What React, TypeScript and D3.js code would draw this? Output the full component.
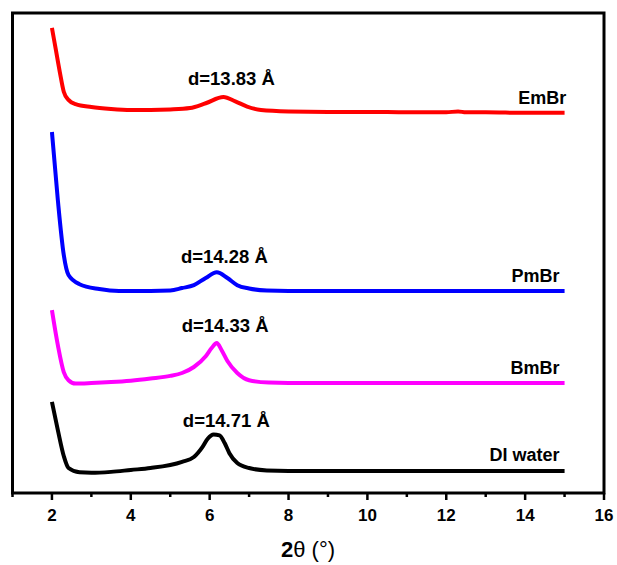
import { useEffect, useRef } from 'react';
import * as d3 from 'd3';

// 2θ (deg) vs intensity (a.u., stacked offsets included)
const emBr: [number, number][] = [
  [2.0, 96.9], [2.1, 92.3], [2.2, 87.7], [2.3, 83.6], [2.42, 81.9], [2.6, 81.0],
  [3.0, 80.4], [3.5, 80.0], [4.0, 79.8], [4.5, 79.8], [5.0, 79.9], [5.5, 80.2],
  [5.9, 81.2], [6.35, 82.5], [6.65, 81.6], [6.95, 80.5], [7.3, 79.8], [8.0, 79.5],
  [9.0, 79.4], [10.0, 79.4], [11.0, 79.3], [12.0, 79.3], [12.3, 79.5], [12.5, 79.3],
  [13.0, 79.3], [14.0, 79.2], [15.0, 79.2],
];

const pmBr: [number, number][] = [
  [2.0, 75.2], [2.15, 61.0], [2.3, 49.6], [2.42, 45.4], [2.7, 43.5], [3.2, 42.5],
  [3.7, 42.1], [4.5, 42.1], [5.0, 42.2], [5.3, 42.7], [5.6, 43.3], [5.9, 44.8],
  [6.18, 46.0], [6.45, 44.8], [6.7, 43.3], [7.0, 42.6], [7.45, 42.2], [8.0, 42.1],
  [10.0, 42.1], [12.0, 42.1], [14.0, 42.1], [15.0, 42.1],
];

const bmBr: [number, number][] = [
  [2.0, 38.1], [2.15, 30.8], [2.3, 25.2], [2.42, 23.5], [2.6, 22.8], [3.0, 22.9],
  [3.5, 23.1], [4.0, 23.4], [4.5, 23.85], [5.0, 24.4], [5.3, 25.0], [5.6, 26.25],
  [5.9, 28.5], [6.05, 30.2], [6.18, 31.25], [6.3, 29.8], [6.45, 27.5], [6.7, 25.0],
  [7.0, 23.5], [7.5, 23.0], [8.0, 22.9], [10.0, 22.9], [12.0, 22.9], [14.0, 22.9], [15.0, 22.9],
];

const diWater: [number, number][] = [
  [2.0, 19.0], [2.15, 13.1], [2.3, 7.7], [2.42, 5.2], [2.7, 4.3], [3.0, 4.2],
  [3.5, 4.4], [4.0, 4.8], [4.5, 5.2], [5.3, 6.5], [5.6, 7.5], [5.82, 9.6],
  [5.95, 11.3], [6.1, 12.2], [6.25, 12.0], [6.38, 10.4], [6.5, 8.3], [6.7, 6.25],
  [7.0, 5.2], [7.45, 4.7], [8.0, 4.6], [10.0, 4.6], [12.0, 4.6], [14.0, 4.6], [15.0, 4.6],
];

const seriesNames = ['EmBr', 'PmBr', 'BmBr', 'DI water'];
const seriesColors = ['#ff0000', '#0000ff', '#ff00ff', '#000000'];
const seriesData = [emBr, pmBr, bmBr, diWater];
// label position in data units: [x end, y baseline]
const nameAnchors: [number, number][] = [[15.04, 81.0], [14.87, 43.9], [14.87, 24.8], [14.87, 6.7]];

const dLabels = ['d=13.83 Å', 'd=14.28 Å', 'd=14.33 Å', 'd=14.71 Å'];
const dAnchors: [number, number][] = [[5.45, 85.0], [5.27, 47.9], [5.29, 33.5], [5.32, 13.8]];

const majorTicks = [2, 4, 6, 8, 10, 12, 14, 16];
const minorTicks = [1, 3, 5, 7, 9, 11, 13, 15];

export default function App() {
  const svgRef = useRef<SVGSVGElement>(null);

  useEffect(() => {
    const width = 617;
    const height = 565;
    const frame = { left: 12.5, right: 604, top: 13, bottom: 493 };
    const font = '"Liberation Sans", Arial, sans-serif';

    const svg = d3.select(svgRef.current);
    svg.selectAll('*').remove();
    svg.attr('width', width).attr('height', height);

    const x = d3.scaleLinear().domain([1, 16]).range([frame.left, frame.right]);
    const y = d3.scaleLinear().domain([0, 100]).range([frame.bottom, frame.top]);

    const line = d3.line<[number, number]>()
      .x(d => x(d[0]))
      .y(d => y(d[1]))
      .curve(d3.curveMonotoneX);

    seriesData.forEach((data, i) => {
      svg.append('path')
        .datum(data)
        .attr('fill', 'none')
        .attr('stroke', seriesColors[i])
        .attr('stroke-width', 4)
        .attr('stroke-linejoin', 'round')
        .attr('d', line);

      svg.append('text')
        .attr('x', x(nameAnchors[i][0]))
        .attr('y', y(nameAnchors[i][1]))
        .attr('text-anchor', 'end')
        .attr('font-family', font)
        .attr('font-weight', 'bold')
        .attr('font-size', 18)
        .text(seriesNames[i]);

      svg.append('text')
        .attr('x', x(dAnchors[i][0]))
        .attr('y', y(dAnchors[i][1]))
        .attr('font-family', font)
        .attr('font-weight', 'bold')
        .attr('font-size', 18.5)
        .text(dLabels[i]);
    });

    // frame
    svg.append('rect')
      .attr('x', frame.left)
      .attr('y', frame.top)
      .attr('width', frame.right - frame.left)
      .attr('height', frame.bottom - frame.top)
      .attr('fill', 'none')
      .attr('stroke', '#000')
      .attr('stroke-width', 3);

    // x axis ticks
    const axis = svg.append('g').attr('transform', `translate(0,${frame.bottom})`);
    axis.selectAll('line.major')
      .data(majorTicks)
      .join('line')
      .attr('x1', d => x(d)).attr('x2', d => x(d))
      .attr('y1', 0).attr('y2', 7)
      .attr('stroke', '#000').attr('stroke-width', 2.5);
    axis.selectAll('line.minor')
      .data(minorTicks)
      .join('line')
      .attr('x1', d => x(d)).attr('x2', d => x(d))
      .attr('y1', 0).attr('y2', 4)
      .attr('stroke', '#000').attr('stroke-width', 2.5);
    axis.selectAll('text')
      .data(majorTicks)
      .join('text')
      .attr('x', d => x(d))
      .attr('y', 28)
      .attr('text-anchor', 'middle')
      .attr('font-family', font)
      .attr('font-weight', 'bold')
      .attr('font-size', 17)
      .text(d => d);

    const title = svg.append('text')
      .attr('x', 308)
      .attr('y', 557)
      .attr('text-anchor', 'middle')
      .attr('font-family', font)
      .attr('font-size', 22);
    title.append('tspan').attr('font-weight', 'bold').text('2');
    title.append('tspan').text('θ (°)');
  }, []);

  return (
    <svg ref={svgRef} style={{ position: 'absolute', left: 0, top: 0, background: '#fff' }} />
  );
}
